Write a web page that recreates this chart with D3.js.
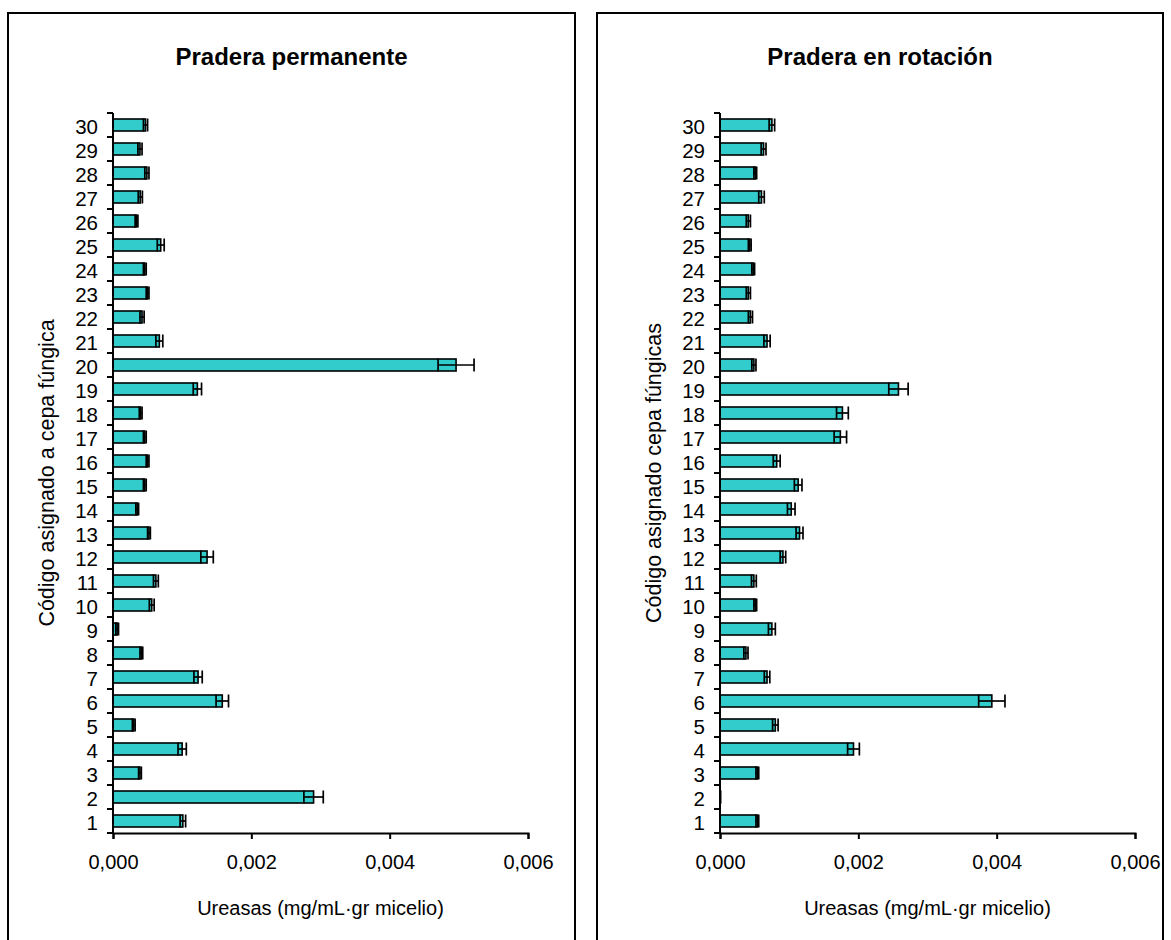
<!DOCTYPE html>
<html>
<head>
<meta charset="utf-8">
<script src="https://cdn.jsdelivr.net/npm/d3@7"></script>
<style>
  html, body { margin: 0; padding: 0; background: #fff; }
  svg { display: block; font-family: "Liberation Sans", Arial, sans-serif; }
</style>
</head>
<body>
<svg id="chart" width="1171" height="940"></svg>
<script>
// Strain codes (bottom to top)
const codes = ["1","2","3","4","5","6","7","8","9","10","11","12","13","14","15",
               "16","17","18","19","20","21","22","23","24","25","26","27","28","29","30"];

// Urease activity, permanent pasture (mg/mL·gr micelio)
const permanenteValues = [0.00101, 0.00290, 0.00039, 0.00100, 0.00030, 0.00158, 0.00123, 0.00041, 0.00006, 0.00056,
                          0.00062, 0.00136, 0.00052, 0.00035, 0.00046, 0.00050, 0.00046, 0.00040, 0.00122, 0.00496,
                          0.00067, 0.00042, 0.00050, 0.00046, 0.00069, 0.00034, 0.000395, 0.00049, 0.00039, 0.00047];
const permanenteErrors = [0.00004, 0.00014, 0.00002, 0.00006, 0.00002, 0.00009, 0.00006, 0.00002, 0.00002, 0.000035,
                          0.000035, 0.00009, 0.00002, 0.00002, 0.00002, 0.00002, 0.00002, 0.00002, 0.00006, 0.00026,
                          0.00005, 0.00003, 0.00002, 0.00002, 0.00005, 0.00002, 0.00003, 0.00003, 0.00003, 0.00003];

// Urease activity, rotation pasture
const rotacionValues = [0.00054, 0.000005, 0.00054, 0.00193, 0.00080, 0.00393, 0.00068, 0.000375, 0.00075, 0.00051,
                        0.00049, 0.00091, 0.00115, 0.00103, 0.00113, 0.00082, 0.00174, 0.00177, 0.00258, 0.00049,
                        0.00068, 0.00044, 0.00041, 0.00048, 0.00043, 0.00041, 0.00060, 0.00051, 0.00063, 0.00075];
const rotacionErrors = [0.00002, 0.000003, 0.00002, 0.000085, 0.00004, 0.00019, 0.00004, 0.00003, 0.00005, 0.00002,
                        0.000035, 0.00004, 0.00005, 0.000055, 0.000055, 0.00005, 0.00009, 0.000085, 0.00014, 0.00003,
                        0.000045, 0.00003, 0.00003, 0.00002, 0.00002, 0.00003, 0.00004, 0.00002, 0.000035, 0.00004];

// X axis ticks
const xTicks = [0, 0.002, 0.004, 0.006];
const xDomain = [0, 0.006];

const panels = [
  { title: "Pradera permanente", yTitle: "Código asignado a cepa fúngica",
    values: permanenteValues, errors: permanenteErrors,
    frame: [8, 13, 567], x0: 113, yTitleX: 47 },
  { title: "Pradera en rotación", yTitle: "Código asignado cepa fúngicas",
    values: rotacionValues, errors: rotacionErrors,
    frame: [597, 13, 566], x0: 720, yTitleX: 654 }
];

const svg = d3.select("#chart");
const fmt = v => d3.format(".3f")(v).replace(".", ",");
const plotW = 415, yTop = 113, yBottom = 833;
const fill = "#33CCCC";

panels.forEach(p => {
  const g = svg.append("g");

  // panel frame (open at the bottom edge of the page)
  g.append("path")
    .attr("d", `M${p.frame[0]},${960} V${p.frame[1]} H${p.frame[0] + p.frame[2]} V${960}`)
    .attr("fill", "none").attr("stroke", "#000").attr("stroke-width", 2);

  g.append("text")
    .attr("x", p.frame[0] + p.frame[2] / 2).attr("y", 65)
    .attr("text-anchor", "middle").attr("font-weight", "bold").attr("font-size", 24)
    .text(p.title);

  const x = d3.scaleLinear().domain(xDomain).range([p.x0, p.x0 + plotW]);
  const y = d3.scaleBand().domain(codes).range([yBottom, yTop]).paddingInner(0.5).paddingOuter(0.25);
  const bh = y.bandwidth();

  const data = codes.map((c, i) => ({ c, v: p.values[i], e: p.errors[i] }));

  // bars
  g.selectAll("rect.bar").data(data).join("rect")
    .attr("class", "bar")
    .attr("x", x(0)).attr("y", d => y(d.c))
    .attr("width", d => x(d.v) - x(0)).attr("height", bh)
    .attr("fill", fill).attr("stroke", "#000").attr("stroke-width", 1.6);

  // error bars
  const eb = g.selectAll("g.err").data(data).join("g").attr("class", "err")
    .attr("stroke", "#000").attr("stroke-width", 1.7);
  eb.append("line")
    .attr("x1", d => x(d.v - d.e)).attr("x2", d => x(d.v + d.e))
    .attr("y1", d => y(d.c) + bh / 2).attr("y2", d => y(d.c) + bh / 2);
  eb.append("line")
    .attr("x1", d => x(d.v - d.e)).attr("x2", d => x(d.v - d.e))
    .attr("y1", d => y(d.c) - 0.5).attr("y2", d => y(d.c) + bh + 0.5);
  eb.append("line")
    .attr("x1", d => x(d.v + d.e)).attr("x2", d => x(d.v + d.e))
    .attr("y1", d => y(d.c) - 0.5).attr("y2", d => y(d.c) + bh + 0.5);

  // x axis
  const xa = g.append("g").attr("transform", `translate(0,${yBottom})`)
    .call(d3.axisBottom(x).tickValues(xTicks).tickFormat(fmt).tickSize(6).tickPadding(16));
  xa.select(".domain").attr("stroke-width", 2);
  xa.selectAll(".tick line").attr("stroke-width", 2);
  xa.selectAll("text").attr("font-size", 20).attr("fill", "#000").attr("font-family", "Liberation Sans, Arial, sans-serif");

  // y axis: labels centred on each category, tick marks between categories
  const ya = g.append("g").attr("transform", `translate(${p.x0},0)`)
    .call(d3.axisLeft(y).tickSize(0).tickPadding(15));
  ya.select(".domain").remove();
  ya.selectAll("text").attr("font-size", 20.5).attr("fill", "#000").attr("dy", "0.44em")
    .attr("font-family", "Liberation Sans, Arial, sans-serif");

  const step = y.step();
  const bounds = d3.range(codes.length + 1).map(i => yBottom - i * step);
  g.selectAll("line.ytick").data(bounds).join("line")
    .attr("x1", p.x0 - 6).attr("x2", p.x0)
    .attr("y1", d => d).attr("y2", d => d)
    .attr("stroke", "#000").attr("stroke-width", 2);
  g.append("line")
    .attr("x1", p.x0).attr("x2", p.x0).attr("y1", yTop).attr("y2", yBottom)
    .attr("stroke", "#000").attr("stroke-width", 2);

  // axis titles
  g.append("text")
    .attr("x", p.x0 + plotW / 2).attr("y", 915)
    .attr("text-anchor", "middle").attr("font-size", 20)
    .text("Ureasas (mg/mL·gr micelio)");
  g.append("text")
    .attr("transform", `translate(${p.yTitleX + 7},${(yTop + yBottom) / 2}) rotate(-90)`)
    .attr("text-anchor", "middle").attr("font-size", 21.5)
    .text(p.yTitle);
});
</script>
</body>
</html>
